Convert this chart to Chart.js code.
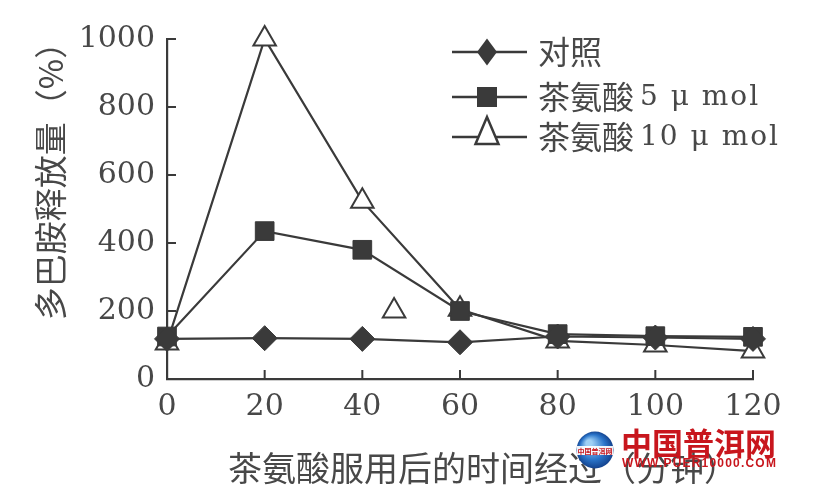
<!DOCTYPE html>
<html>
<head>
<meta charset="utf-8">
<script src="https://cdn.jsdelivr.net/npm/chart.js@4.4.1/dist/chart.umd.min.js"></script>
<style>
  html, body { margin: 0; padding: 0; background: #fff; }
  #wrap { width: 831px; height: 499px; position: relative; }
</style>
</head>
<body>
<div id="wrap"><canvas id="dopamineChart"></canvas></div>
<script>
// values
const timePoints = [0, 20, 40, 60, 80, 100, 120];
const controlValues = [118, 120, 118, 108, 125, 122, 118];
const theanine5Values = [125, 435, 380, 200, 132, 126, 124];
const theanine10Values = [106, 1000, 523, 205, 112, 100, 82];
// lone triangle sitting below the 40-60 segment
const strayTime = [46.5];
const strayValue = [200];

const xTicks = [0, 20, 40, 60, 80, 100, 120];
const yTicks = [0, 200, 400, 600, 800, 1000];
const seriesNames = ['对照', '茶氨酸', '茶氨酸'];
const seriesDoses = ['', '5 μ mol', '10 μ mol'];
const xTitle = '茶氨酸服用后的时间经过（分钟）';
const yTitle = '多巴胺释放量（%）';

const ink = '#3a3a3a';
const textInk = '#484848';
const serif = '"DejaVu Serif", "Liberation Serif", serif';
const cjk = '"Noto Sans CJK SC", "Noto Sans CJK JP", sans-serif';

const toPoints = (xs, ys) => xs.map((x, i) => ({ x: x, y: ys[i] }));

// legend markers, a little taller than the plotted ones like in the print
function drawLegendMarker(ctx, style, x, y) {
  ctx.beginPath();
  if (style === 'rectRot') {
    ctx.moveTo(x, y - 13.5); ctx.lineTo(x + 10, y); ctx.lineTo(x, y + 13.5); ctx.lineTo(x - 10, y);
    ctx.closePath();
    ctx.fillStyle = ink; ctx.fill();
  } else if (style === 'rect') {
    ctx.rect(x - 10, y - 10, 20, 20);
    ctx.fillStyle = ink; ctx.fill();
  } else {
    ctx.moveTo(x, y - 20);
    ctx.lineTo(x + 11.5, y + 7);
    ctx.lineTo(x - 11.5, y + 7);
    ctx.closePath();
    ctx.fillStyle = '#fff'; ctx.fill();
    ctx.lineWidth = 2.5; ctx.strokeStyle = ink; ctx.stroke();
  }
}

const decorations = {
  id: 'decorations',
  afterDraw(chart) {
    const { ctx, chartArea, scales } = chart;
    const x = scales.x, y = scales.y;
    ctx.save();
    ctx.strokeStyle = ink;
    ctx.lineWidth = 2;
    // inward tick marks
    ctx.beginPath();
    yTicks.forEach(v => {
      if (v === 0) return;
      const py = y.getPixelForValue(v);
      ctx.moveTo(chartArea.left, py); ctx.lineTo(chartArea.left + 9, py);
    });
    xTicks.forEach(v => {
      if (v === 0) return;
      const px = x.getPixelForValue(v);
      ctx.moveTo(px, chartArea.bottom); ctx.lineTo(px, chartArea.bottom - 9);
    });
    ctx.stroke();

    // legend
    const rows = [52, 97, 137];
    const styles = ['rectRot', 'rect', 'triangle'];
    rows.forEach((ry, i) => {
      ctx.beginPath();
      ctx.lineWidth = 2.5; ctx.strokeStyle = ink;
      ctx.moveTo(452, ry); ctx.lineTo(527, ry);
      ctx.stroke();
      drawLegendMarker(ctx, styles[i], 487, ry);
      ctx.fillStyle = textInk;
      ctx.textBaseline = 'middle';
      ctx.textAlign = 'left';
      ctx.font = '32px ' + cjk;
      ctx.fillText(seriesNames[i], 538, ry);
      if (seriesDoses[i]) {
        const w = ctx.measureText(seriesNames[i]).width;
        ctx.font = '28px ' + serif;
        ctx.letterSpacing = '2px';
        ctx.fillText(seriesDoses[i], 538 + w + 6, ry + 1);
        ctx.letterSpacing = '0px';
      }
    });

    // axis titles
    ctx.fillStyle = textInk;
    ctx.font = '34px ' + cjk;
    ctx.textAlign = 'center';
    ctx.textBaseline = 'middle';
    ctx.fillText(xTitle, 483, 468);
    ctx.save();
    ctx.translate(50, 173);
    ctx.rotate(-Math.PI / 2);
    ctx.font = '33px ' + cjk;
    ctx.fillText(yTitle, 0, 0);
    ctx.restore();

    // watermark
    const g = ctx.createRadialGradient(589, 443, 3, 595, 450, 19);
    g.addColorStop(0, '#9fd0f5');
    g.addColorStop(0.6, '#2a74c9');
    g.addColorStop(1, '#123f8a');
    ctx.beginPath();
    ctx.arc(595, 450, 18.5, 0, Math.PI * 2);
    ctx.fillStyle = g; ctx.fill();
    ctx.fillStyle = 'rgba(255,255,255,0.92)';
    ctx.fillRect(577, 446, 36, 9);
    ctx.fillStyle = '#c8161d';
    ctx.font = 'bold 7px ' + cjk;
    ctx.fillText('中国普洱网', 595, 451);
    ctx.font = 'bold 31px ' + cjk;
    ctx.textAlign = 'left';
    ctx.fillText('中国普洱网', 621, 443);
    ctx.font = 'bold 12px "Liberation Sans", sans-serif';
    ctx.letterSpacing = '1.2px';
    ctx.fillText('WWW.PUER10000.COM', 622, 464);
    ctx.letterSpacing = '0px';
    ctx.restore();
  }
};

const baseSet = {
  borderColor: ink,
  borderWidth: 2.2,
  pointBorderColor: ink,
  pointBorderWidth: 2,
  tension: 0,
  clip: false
};

new Chart(document.getElementById('dopamineChart'), {
  type: 'line',
  data: {
    datasets: [
      Object.assign({}, baseSet, {
        label: seriesNames[0],
        data: toPoints(timePoints, controlValues),
        pointStyle: 'rectRot', pointRadius: 12.5, pointBackgroundColor: ink, pointBorderWidth: 1
      }),
      Object.assign({}, baseSet, {
        label: seriesNames[1] + ' ' + seriesDoses[1],
        data: toPoints(timePoints, theanine5Values),
        pointStyle: 'rect', pointRadius: 13.2, pointBackgroundColor: ink, pointBorderWidth: 1
      }),
      Object.assign({}, baseSet, {
        label: seriesNames[2] + ' ' + seriesDoses[2],
        data: toPoints(timePoints, theanine10Values),
        pointStyle: 'triangle', pointRadius: 13, pointBackgroundColor: '#fff'
      }),
      Object.assign({}, baseSet, {
        label: 'stray',
        data: toPoints(strayTime, strayValue),
        showLine: false,
        pointStyle: 'triangle', pointRadius: 13, pointBackgroundColor: '#fff'
      })
    ]
  },
  options: {
    responsive: true,
    maintainAspectRatio: false,
    animation: false,
    layout: { padding: { left: 0, right: 78, top: 39, bottom: 0 } },
    plugins: {
      legend: { display: false },
      tooltip: { enabled: false }
    },
    scales: {
      x: {
        type: 'linear',
        min: 0, max: 120,
        afterFit: s => { s.height = 120; },
        afterBuildTicks: s => { s.ticks = xTicks.map(v => ({ value: v })); },
        grid: { display: false, drawTicks: false },
        border: { display: true, color: ink, width: 2.2 },
        ticks: {
          color: textInk, font: { family: serif, size: 30 }, padding: 10, maxRotation: 0,
          callback: v => String(v)
        }
      },
      y: {
        min: 0, max: 1000,
        afterFit: s => { s.width = 167; },
        afterBuildTicks: s => { s.ticks = yTicks.map(v => ({ value: v })); },
        grid: { display: false, drawTicks: false },
        border: { display: true, color: ink, width: 2.2 },
        ticks: {
          color: textInk, font: { family: serif, size: 30 }, padding: 12,
          callback: v => String(v)
        }
      }
    }
  },
  plugins: [decorations]
});
</script>
</body>
</html>
